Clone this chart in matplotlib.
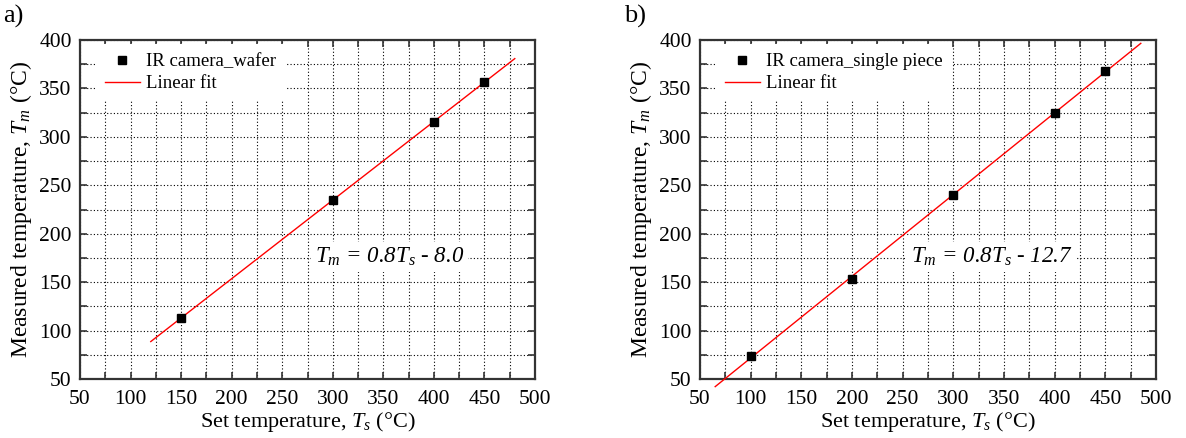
import numpy as np
import matplotlib
matplotlib.use("Agg")
import matplotlib.pyplot as plt
from matplotlib.ticker import MultipleLocator

plt.rcParams['font.family'] = ['Liberation Serif', 'DejaVu Serif']
plt.rcParams['mathtext.fontset'] = 'custom'
plt.rcParams['mathtext.rm'] = 'Liberation Serif'
plt.rcParams['mathtext.it'] = 'Liberation Serif:italic'

# Data
set_a = [150, 300, 400, 450]
meas_a = [113, 235, 315, 357]
fit_range_a = [120, 480]
label_a = "IR camera_wafer"
eq_a = r"$T_m$ = 0.8$T_s$ - 8.0"

set_b = [100, 200, 300, 400, 450]
meas_b = [74, 153, 240, 325, 368]
fit_range_b = [65, 485]
label_b = "IR camera_single piece"
eq_b = r"$T_m$ = 0.8$T_s$ - 12.7"

fig = plt.figure(figsize=(11.86, 4.38), dpi=100)
W, H = 1186, 438
axA = fig.add_axes([80 / W, 1 - 379 / H, 455 / W, 339 / H])
axB = fig.add_axes([700 / W, 1 - 379 / H, 456 / W, 339 / H])


def draw(ax, xs, ys, frange, lab, eq, eqx):
    k, b = np.polyfit(xs, ys, 1)
    xf = np.array(frange, dtype=float)
    ax.plot(xf, k * xf + b, color='red', lw=1.0, label='Linear fit', zorder=3, clip_on=False)
    ax.plot(xs, ys, 's', color='black', ms=5.5, label=lab, zorder=4, linestyle='none')
    ax.set_xlim(50, 500)
    ax.set_ylim(50, 400)
    ax.xaxis.set_major_locator(MultipleLocator(50))
    ax.yaxis.set_major_locator(MultipleLocator(50))
    ax.xaxis.set_minor_locator(MultipleLocator(25))
    ax.yaxis.set_minor_locator(MultipleLocator(25))
    ax.grid(True, which='both', color='black', linestyle=(0, (1, 2)), lw=0.8, zorder=0)
    ax.set_axisbelow(True)
    ax.tick_params(which='both', direction='in', top=True, right=True, labelsize=15.5,
                   width=1.2, color='#333333', length=5)
    ax.tick_params(axis='x', which='both', pad=8)
    ax.tick_params(axis='y', which='both', pad=6)
    for s in ax.spines.values():
        s.set_linewidth(1.6)
        s.set_color('#333333')
    ax.set_xlabel(r"Set temperature, $T_s$ (°C)", fontsize=16, labelpad=1)
    ax.set_ylabel(r"Measured temperature, $T_m$ (°C)", fontsize=17, labelpad=4)
    h, l = ax.get_legend_handles_labels()
    leg = ax.legend(h[::-1], l[::-1], loc='upper left', fontsize=13.5, frameon=True,
                    fancybox=False, borderaxespad=0.2, handlelength=1.9, handletextpad=0.3,
                    labelspacing=0.25, borderpad=0.5, bbox_to_anchor=(0.025, 1.0))
    leg.get_frame().set_facecolor('white')
    leg.get_frame().set_edgecolor('none')
    leg.get_frame().set_alpha(1)
    ax.text(eqx, 0.36, eq, transform=ax.transAxes, ha='center', va='center',
            fontsize=16.5, style='italic',
            bbox=dict(facecolor='white', edgecolor='none', pad=3), zorder=2.5)


draw(axA, set_a, meas_a, fit_range_a, label_a, eq_a, 0.68)
draw(axB, set_b, meas_b, fit_range_b, label_b, eq_b, 0.64)

fig.text(3 / W, 1 - 16 / H, "a)", fontsize=19, va='center', ha='left')
fig.text(624 / W, 1 - 16 / H, "b)", fontsize=19, va='center', ha='left')

fig.savefig("out.png", dpi=100)
